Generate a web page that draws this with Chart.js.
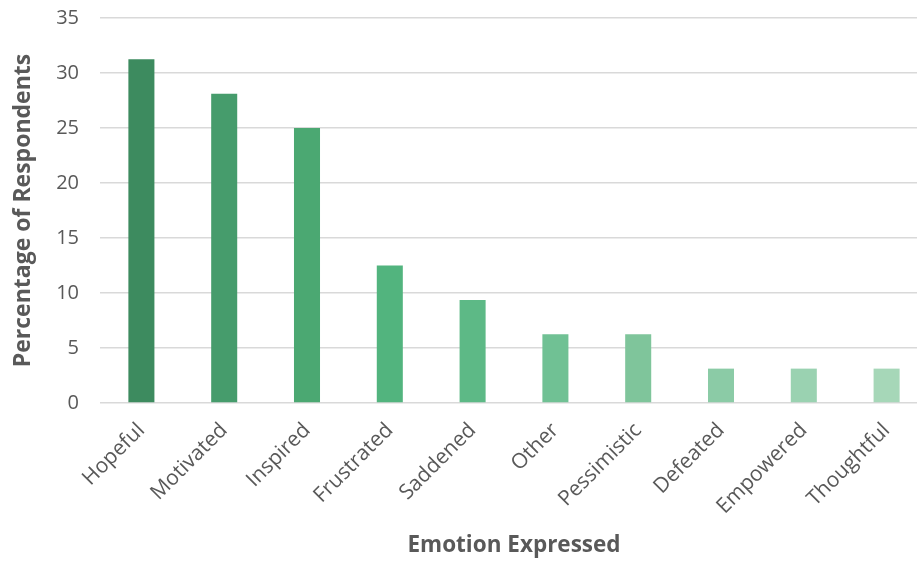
<!DOCTYPE html>
<html>
<head>
<meta charset="utf-8">
<script src="https://cdn.jsdelivr.net/npm/chart.js@4"></script>
<style>
  html, body { margin: 0; padding: 0; background: #ffffff; overflow: hidden; }
  #wrap { width: 928px; height: 576px; margin-top: -15px; position: relative; }
</style>
</head>
<body>
<div id="wrap"><canvas id="chart"></canvas></div>
<script>
// Survey results: share of respondents expressing each emotion
const emotions = ["Hopeful", "Motivated", "Inspired", "Frustrated", "Saddened",
                  "Other", "Pessimistic", "Defeated", "Empowered", "Thoughtful"];
const percentages = [31.25, 28.125, 25, 12.5, 9.375, 6.25, 6.25, 3.125, 3.125, 3.125];
const yTicks = [0, 5, 10, 15, 20, 25, 30, 35];

// Green shades, darkest for the first bar, lightening along the axis
const barColors = ["#3d8b5f", "#469c6c", "#4ba872", "#52b47e", "#5db986",
                   "#70c194", "#7fc59b", "#8bcba6", "#9ad2b1", "#a6d7b8"];

const textColor = "#595959";
const fontFamily = "'Open Sans', sans-serif";

new Chart(document.getElementById("chart"), {
  type: "bar",
  data: {
    labels: emotions,
    datasets: [{
      data: percentages,
      backgroundColor: barColors,
      borderWidth: 0,
      barPercentage: 0.393,
      categoryPercentage: 0.8
    }]
  },
  options: {
    responsive: true,
    maintainAspectRatio: false,
    animation: false,
    layout: { padding: { top: -4, right: 0, left: 0, bottom: 0 } },
    plugins: { legend: { display: false }, tooltip: { enabled: false } },
    scales: {
      x: {
        afterFit: (scale) => { scale.height = 158; },
        grid: { display: false },
        border: { display: false },
        ticks: {
          color: textColor,
          font: { family: fontFamily, size: 21 },
          minRotation: 45,
          maxRotation: 45,
          padding: 7
        },
        title: {
          display: true,
          text: "Emotion Expressed",
          color: textColor,
          font: { family: fontFamily, size: 22.5, weight: "bold" },
          padding: { top: 0, bottom: 2 }
        }
      },
      y: {
        min: 0,
        max: 35,
        afterFit: (scale) => { scale.width = 100; },
        afterBuildTicks: (axis) => { axis.ticks = yTicks.map(v => ({ value: v })); },
        grid: { color: "#d9d9d9", lineWidth: 1.5, drawTicks: false },
        border: { display: false },
        ticks: {
          color: textColor,
          font: { family: fontFamily, size: 20 },
          padding: 21
        },
        title: {
          display: true,
          text: "Percentage of Respondents",
          color: textColor,
          font: { family: fontFamily, size: 23, weight: "bold" },
          padding: { top: 10, bottom: 0 }
        }
      }
    }
  }
});
</script>
</body>
</html>
